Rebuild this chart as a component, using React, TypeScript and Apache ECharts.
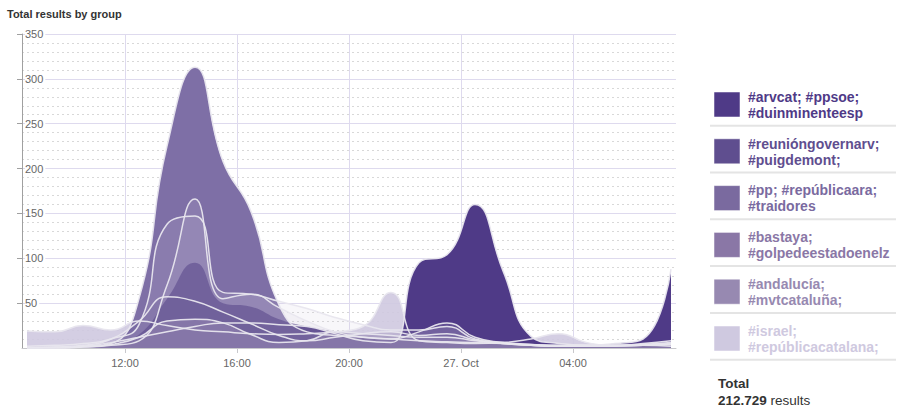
import { useEffect, useRef } from 'react';
import * as echarts from 'echarts';

// time of each sample, hours since 26 Oct 00:00 (samples at HH:30)
const hours = [8.5, 9.5, 10.5, 11.5, 12.5, 13.5, 14.5, 15.5, 16.5, 17.5, 18.5, 19.5, 20.5, 21.5, 22.5, 23.5, 24.5, 25.5, 26.5, 27.5, 28.5, 29.5, 30.5, 31.5];

const israel = [19, 18, 25, 20, 30, 25, 20, 18, 16, 15, 16, 18, 24, 62, 8, 6, 5, 6, 10, 16, 6, 3, 3, 2];
const arvcat = [0, 0, 2, 6, 12, 18, 24, 28, 28, 26, 24, 16, 8, 6, 95, 104, 160, 86, 13, 5, 3, 5, 10, 88];
const pp = [0, 1, 2, 5, 55, 225, 313, 208, 152, 48, 18, 14, 12, 10, 8, 7, 6, 5, 4, 3, 3, 3, 4, 5];
const otherA = [2, 3, 5, 10, 26, 138, 147, 62, 60, 52, 44, 34, 26, 20, 20, 24, 10, 6, 4, 3, 3, 3, 5, 8];
const otherB = [0, 0, 1, 3, 8, 70, 166, 55, 60, 45, 30, 18, 12, 10, 18, 28, 12, 6, 3, 2, 2, 3, 4, 6];
const bastaya = [0, 1, 3, 10, 30, 57, 52, 40, 27, 14, 8, 12, 16, 18, 14, 16, 9, 5, 3, 2, 2, 2, 3, 4];
const reunion = [0, 0, 2, 5, 15, 55, 95, 50, 46, 32, 24, 18, 12, 10, 8, 6, 5, 4, 3, 3, 3, 3, 4, 5];
const andalucia = [0, 0, 1, 4, 12, 30, 32, 28, 15, 6, 8, 18, 16, 14, 12, 12, 8, 5, 3, 2, 2, 2, 3, 4];

const xTickValues = [12, 16, 20, 24, 28];
const xTickLabels = ['12:00', '16:00', '20:00', '27. Oct', '04:00'];

const legendLines = [
  ['#arvcat; #ppsoe;', '#duinminenteesp'],
  ['#reunióngovernarv;', '#puigdemont;'],
  ['#pp; #repúblicaara;', '#traidores'],
  ['#bastaya;', '#golpedeestadoenelz'],
  ['#andalucía;', '#mvtcataluña;'],
  ['#israel;', '#repúblicacatalana;'],
];
const legendColors = ['#4F3A87', '#5F4E8F', '#7A6A9F', '#8A77A6', '#9789B1', '#CFC9E0'];

const titleText = 'Total results by group';
const totalLabel = 'Total';
const totalValue = '212.729';
const totalUnit = ' results';

const FONT = '"Liberation Sans", Arial, sans-serif';

export default function App() {
  const ref = useRef<HTMLDivElement>(null);
  useEffect(() => {
    const chart = echarts.init(ref.current!, null, { renderer: 'svg' });
    const toData = (arr: number[]) => hours.map((h, i) => [h, arr[i]]);

    // fills, bottom to top
    const fills = [
      { name: 'israel', data: israel, color: '#CFC9E0', opacity: 0.9 },
      { name: 'arvcat', data: arvcat, color: '#4F3A87', opacity: 1 },
      { name: 'pp', data: pp, color: '#7E6FA6', opacity: 1 },
      { name: 'bastaya', data: bastaya, color: '#6A5A9A', opacity: 0.25 },
      { name: 'otherA', data: otherA, color: '#CFC9E0', opacity: 0.15 },
      { name: 'otherB', data: otherB, color: '#CFC9E0', opacity: 0.15 },
      { name: 'reunion', data: reunion, color: '#5F4E8F', opacity: 0.65 },
      { name: 'andalucia', data: andalucia, color: '#9A8BB5', opacity: 0.5 },
    ];
    const outlined = [israel, arvcat, pp, bastaya, otherA, otherB, andalucia];

    const series: any[] = fills.map((f) => ({
      type: 'line',
      name: f.name,
      data: toData(f.data),
      smooth: 0.5,
      showSymbol: false,
      silent: true,
      z: 2,
      lineStyle: { width: 0, opacity: 0 },
      areaStyle: { color: f.color, opacity: f.opacity },
    }));
    outlined.forEach((arr, i) => {
      series.push({
        type: 'line',
        name: 'outline' + i,
        data: toData(arr),
        smooth: 0.5,
        showSymbol: false,
        silent: true,
        z: 3,
        lineStyle: { width: 1.5, color: 'rgba(232,230,238,0.95)' },
      });
    });

    const graphic: any[] = [
      {
        type: 'text',
        x: 7,
        y: 14,
        style: { text: titleText, font: `bold 11px ${FONT}`, fill: '#333', verticalAlign: 'middle' },
      },
    ];
    legendLines.forEach((lines, i) => {
      const c = legendColors[i];
      graphic.push({
        type: 'rect',
        shape: { x: 714, y: 92 + 46.8 * i, width: 26, height: 25 },
        style: { fill: c, stroke: 'rgba(255,255,255,0.5)', lineWidth: 1 },
      });
      graphic.push({
        type: 'text',
        x: 748,
        y: 97 + 46.7 * i,
        style: { text: lines[0], font: `bold 14px ${FONT}`, fill: c, verticalAlign: 'middle' },
      });
      graphic.push({
        type: 'text',
        x: 748,
        y: 113 + 46.7 * i,
        style: { text: lines[1], font: `bold 14px ${FONT}`, fill: c, verticalAlign: 'middle' },
      });
      graphic.push({
        type: 'line',
        shape: { x1: 710, y1: 125.7 + 46.8 * i, x2: 896, y2: 125.7 + 46.8 * i },
        style: { stroke: '#E4E4E4', lineWidth: 2 },
      });
    });
    graphic.push({
      type: 'text',
      x: 718,
      y: 383,
      style: { text: totalLabel, font: `bold 13.5px ${FONT}`, fill: '#333', verticalAlign: 'middle' },
    });
    graphic.push({
      type: 'text',
      x: 718,
      y: 400,
      style: {
        text: `{b|${totalValue}}{n|${totalUnit}}`,
        verticalAlign: 'middle',
        rich: {
          b: { font: `bold 13.5px ${FONT}`, fill: '#333' },
          n: { font: `13.5px ${FONT}`, fill: '#333' },
        },
      },
    });

    chart.setOption({
      animation: false,
      grid: { left: 22, right: 222, top: 34, bottom: 61 },
      xAxis: {
        type: 'value',
        min: 8.321,
        max: 31.679,
        axisLine: { show: true, lineStyle: { color: '#C8C8CC', width: 1 } },
        axisTick: { show: true, length: 5, customValues: xTickValues, lineStyle: { color: '#C8C8CC' } },
        axisLabel: {
          customValues: xTickValues,
          margin: 9,
          color: '#666',
          fontSize: 11,
          fontFamily: FONT,
          formatter: (v: number) => xTickLabels[xTickValues.indexOf(v)] ?? '',
        },
        splitLine: { show: true, lineStyle: { color: '#DEDAEE', width: 1 } },
      },
      yAxis: {
        type: 'value',
        min: 0,
        max: 350,
        interval: 50,
        axisLine: { show: true, lineStyle: { color: '#A0A0A0', width: 1 } },
        axisTick: { show: true, inside: false, length: 5, lineStyle: { color: '#A0A0A0' } },
        axisLabel: {
          inside: true,
          margin: 3,
          showMinLabel: false,
          color: '#666',
          fontSize: 11,
          fontFamily: FONT,
          backgroundColor: '#fff',
          padding: [0, 2, 0, 0],
        },
        splitLine: { show: true, lineStyle: { color: '#DEDAEE', width: 1 } },
        minorTick: { show: false, splitNumber: 5 },
        minorSplitLine: { show: true, lineStyle: { color: '#D8D8D8', width: 1, type: [2, 3] } },
      },
      series,
      graphic,
    });
    return () => chart.dispose();
  }, []);
  return <div ref={ref} style={{ position: 'absolute', left: 0, top: 0, width: 898, height: 409 }} />;
}
